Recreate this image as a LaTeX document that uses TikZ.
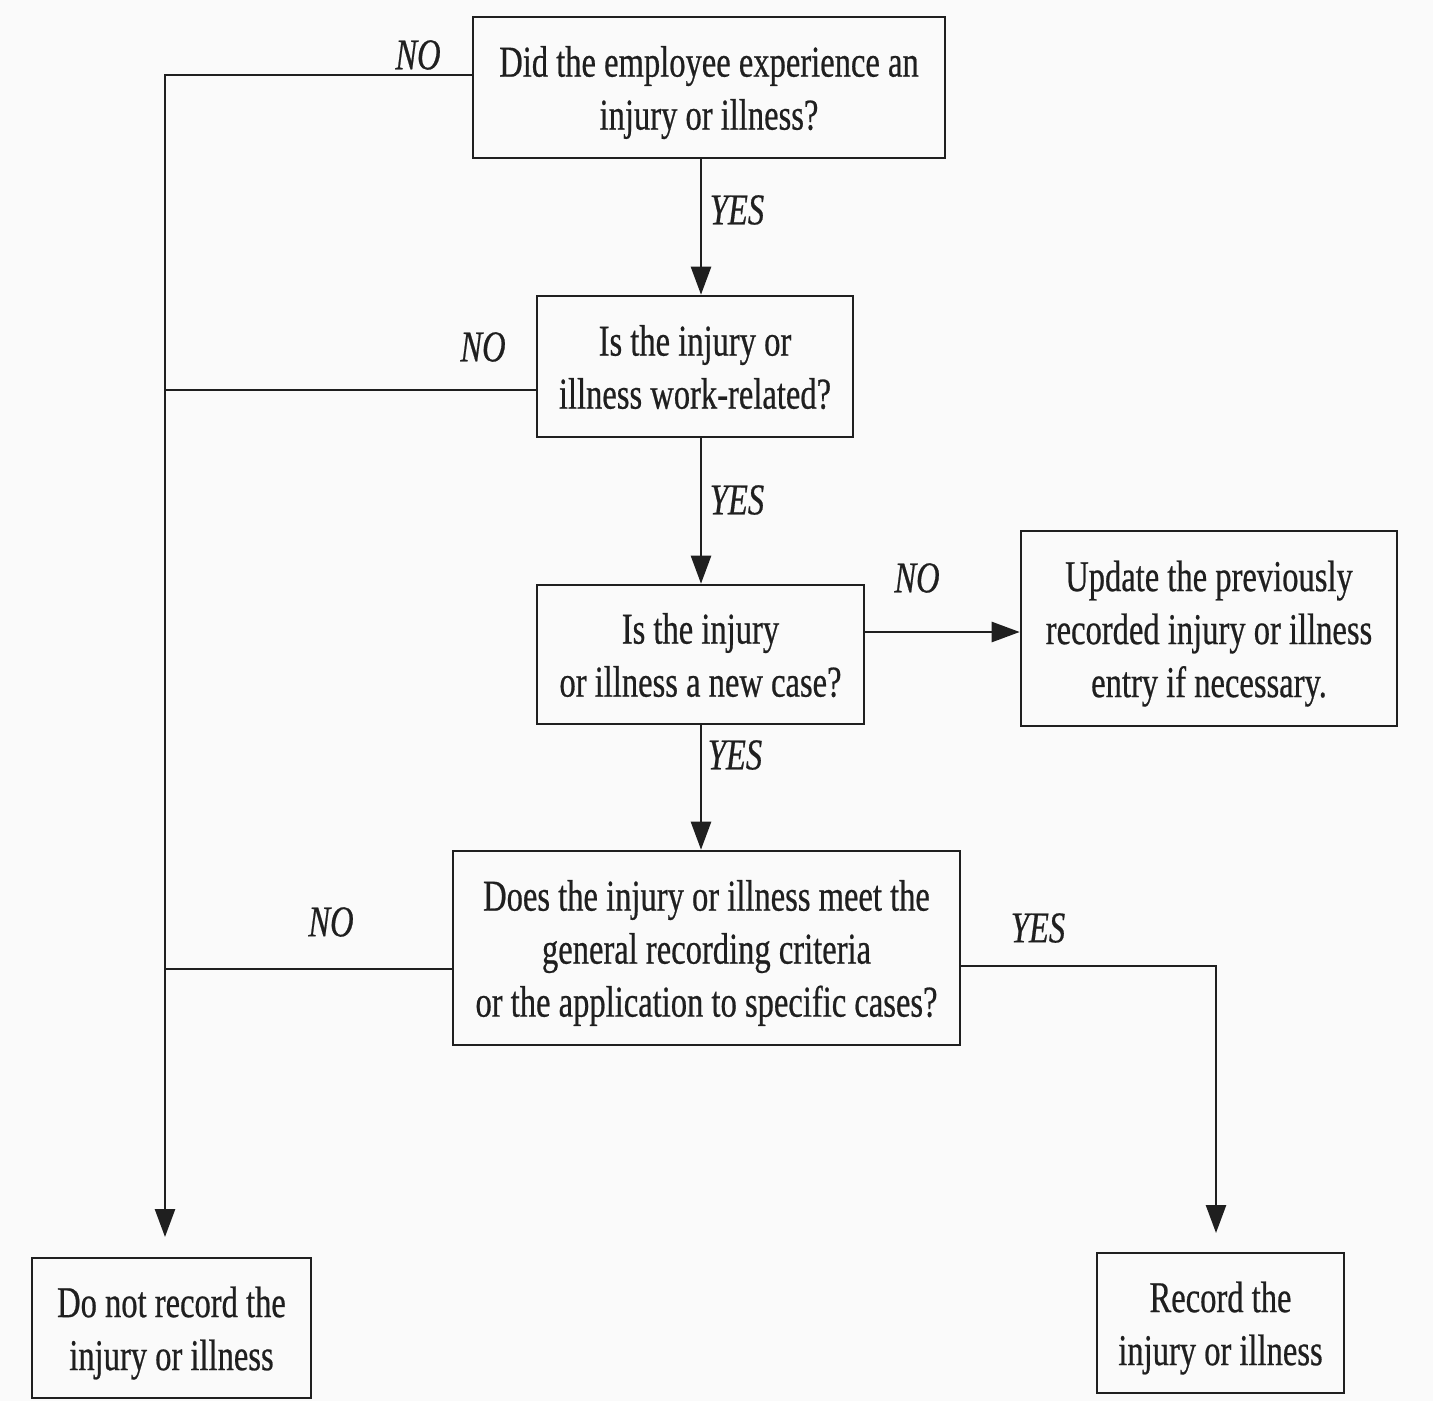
\documentclass[tikz,border=0pt]{standalone}
\usepackage{fontspec}
\setmainfont{Liberation Serif}[FakeStretch=0.74,FakeBold=0.5]
\usetikzlibrary{arrows.meta}
\newcommand\bxt[1]{\raisebox{-2.5pt}[\height][\depth]{\begin{tabular}{@{}c@{}}#1\end{tabular}}}
\begin{document}
\begin{tikzpicture}[x=0.5pt,y=-0.5pt,
  box/.style={draw=black!88, line width=1.3pt, inner sep=0pt,
    font=\fontsize{22pt}{26.5pt}\selectfont, text=black!88},
  lbl/.style={font=\fontsize{22pt}{26.5pt}\selectfont\itshape, text=black!88, inner sep=0pt},
  conn/.style={draw=black!88, line width=1.3pt},
  arr/.style={conn, -{Triangle[length=14pt,width=10pt]}}]
\fill[black!2] (0,0) rectangle (1433,1401);
\useasboundingbox (0,0) rectangle (1433,1401);

\node[box, minimum width=236pt, minimum height=70.5pt] (b1) at (709,87.5)
  {\bxt{Did the employee experience an\\injury or illness?}};
\node[box, minimum width=158pt, minimum height=70.5pt] (b2) at (695,366.5)
  {\bxt{Is the injury or\\illness work-related?}};
\node[box, minimum width=163.5pt, minimum height=69.5pt] (b3) at (700.5,654.5)
  {\bxt{Is the injury\\or illness a new case?}};
\node[box, minimum width=188pt, minimum height=97.5pt] (b4) at (1209,628.5)
  {\bxt{Update the previously\\recorded injury or illness\\entry if necessary.}};
\node[box, minimum width=253.5pt, minimum height=97pt] (b5) at (706.5,948)
  {\bxt{Does the injury or illness meet the\\general recording criteria\\or the application to specific cases?}};
\node[box, minimum width=139.5pt, minimum height=70pt] (b6) at (171.5,1328)
  {\bxt{Do not record the\\injury or illness}};
\node[box, minimum width=123.5pt, minimum height=70pt] (b7) at (1220.5,1323)
  {\bxt{Record the\\injury or illness}};

\coordinate (cx) at (701,0);
\coordinate (L1) at (165,75);
\coordinate (L2) at (165,390);
\coordinate (L3) at (165,969);
\coordinate (Lend) at (165,1237);
\coordinate (R1) at (1216,966);
\coordinate (Rend) at (1216,1233);
\coordinate (M) at (0,632);

\draw[arr] (b1.south -| cx) -- (b2.north -| cx);
\draw[arr] (b2.south -| cx) -- (b3.north -| cx);
\draw[arr] (b3.south -| cx) -- (b5.north -| cx);
\draw[arr] (b3.east |- M) -- (b4.west |- M);
\draw[arr] (b1.west |- L1) -- (L1) -- (Lend);
\draw[conn] (b2.west |- L2) -- (L2);
\draw[conn] (b5.west |- L3) -- (L3);
\draw[arr] (b5.east |- R1) -- (R1) -- (Rend);

\node[lbl] (n1) at (418,55) {NO};
\node[lbl] (y1) at (737,210) {YES};
\node[lbl] (n2) at (483,347) {NO};
\node[lbl] (y2) at (737,500) {YES};
\node[lbl] (n3) at (917,578) {NO};
\node[lbl] (y3) at (735,755) {YES};
\node[lbl] (n4) at (331,922) {NO};
\node[lbl] (y4) at (1038,928) {YES};
\end{tikzpicture}
\end{document}
